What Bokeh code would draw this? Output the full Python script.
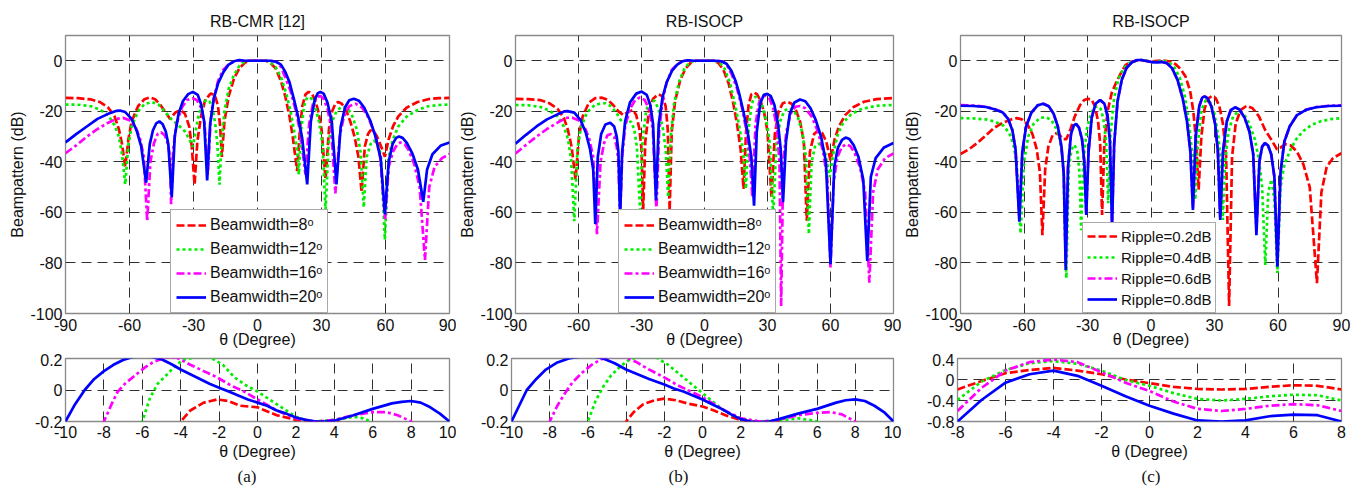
from bokeh.plotting import figure
from bokeh.layouts import column, row
from bokeh.models import Range1d, FixedTicker, Legend, LegendItem, Title
from bokeh.embed import file_html
from bokeh.resources import INLINE

# ---------------- data (theta in degree, beampattern in dB) ----------------
TOP_X_TICKS = [-90, -60, -30, 0, 30, 60, 90]
TOP_Y_TICKS = [-100, -80, -60, -40, -20, 0]
AB_BOT_X_TICKS = [-10, -8, -6, -4, -2, 0, 2, 4, 6, 8, 10]
AB_BOT_Y_TICKS = [-0.2, 0, 0.2]
C_BOT_X_TICKS = [-8, -6, -4, -2, 0, 2, 4, 6, 8]
C_BOT_Y_TICKS = [-0.8, -0.4, 0, 0.4]

TITLES = ["RB-CMR [12]", "RB-ISOCP", "RB-ISOCP"]
CAPTIONS = ["(a)", "(b)", "(c)"]
AB_LABELS = ["Beamwidth=8ᵒ", "Beamwidth=12ᵒ", "Beamwidth=16ᵒ", "Beamwidth=20ᵒ"]
C_LABELS = ["Ripple=0.2dB", "Ripple=0.4dB", "Ripple=0.6dB", "Ripple=0.8dB"]

# ----- panel (a) top -----
A_TOP_BW8 = [(-90,-14.7),(-84,-14.8),(-78,-15.3),(-74,-16.3),(-70,-18.5),(-67,-22),(-65,-27),(-63.5,-33),(-62,-42),(-60.5,-31),(-59,-24),(-56,-18),(-53,-15.2),(-50.5,-14.5),(-48,-15.2),(-45.5,-17.5),(-43,-20.5),(-41,-23),(-38.5,-20.5),(-36,-19.5),(-34,-21),(-32,-26),(-30.8,-34),(-29.5,-49),(-28.2,-32),(-26.5,-22),(-24.5,-15.5),(-22,-13),(-20,-13.5),(-18.5,-18),(-17.5,-26),(-16.7,-38),(-15.5,-24),(-13.5,-14),(-11,-7),(-8.5,-3),(-6,-0.8),(-4,0),(0,0),(4,0),(6,-0.8),(8.5,-3),(11,-8),(13,-14),(15,-22),(16.5,-30),(18.6,-43.6),(19.8,-28),(21,-18),(22.5,-13.3),(24,-12.3),(25.5,-13),(27,-15.5),(28.5,-20),(30,-27),(31.9,-47),(33.5,-27),(35,-20),(36.5,-17),(37.8,-16.3),(39.5,-17),(41.5,-19.5),(43.5,-24),(45.5,-30),(47.3,-38),(48.8,-52),(50.3,-34),(51.8,-29),(53,-27.5),(54.5,-28),(56,-30),(58,-34),(59.7,-38),(61.5,-31),(63.5,-26),(66,-22),(70,-18.5),(75,-16.3),(80,-15.2),(85,-14.8),(90,-14.7)]
A_TOP_BW12 = [(-90,-17.3),(-84,-17.4),(-78,-18),(-74,-19.3),(-70,-21.5),(-67,-25.5),(-65,-30),(-63.5,-37),(-62,-48.9),(-60.5,-33),(-59,-26),(-56,-20),(-53,-17.2),(-49.5,-16.3),(-46.5,-17.3),(-43,-20.5),(-40,-23.5),(-37,-25.5),(-34,-28),(-32,-31),(-30.3,-34),(-29,-28),(-27.5,-21),(-25.5,-17),(-24,-15.5),(-22.5,-16),(-21,-19),(-19.8,-25),(-18.8,-33),(-17.8,-49),(-16.8,-31),(-15.5,-20),(-13.5,-11),(-11,-5.5),(-8.5,-2),(-6,-0.3),(-4,0),(0,0),(4,0),(6,-0.6),(8.5,-2.5),(11,-6.5),(13.5,-13),(15.5,-20),(17.2,-28),(18.5,-35),(19.4,-45),(20.5,-27),(21.8,-18),(23,-15),(24,-14.3),(25.3,-15),(27,-18),(28.8,-24),(30.5,-33),(31.9,-60),(33.3,-33),(35,-24),(37,-20),(39,-18.5),(40.5,-18.3),(42.5,-19),(44.5,-22),(46.5,-27),(48.3,-36),(49.8,-58),(51.2,-38),(53,-33),(54.5,-31.6),(56,-32.5),(57.8,-37),(59.7,-70.8),(61.5,-38),(63.5,-31),(66,-26),(70,-22),(75,-19.5),(80,-18),(85,-17.5),(90,-17.3)]
A_TOP_BW16 = [(-90,-36.6),(-85,-33.5),(-80,-30),(-75,-27),(-70,-24.5),(-66,-23),(-63,-22.6),(-60,-23.5),(-57,-26.5),(-55,-31),(-53.3,-38),(-51.7,-63.5),(-50.2,-40),(-48.5,-32.5),(-46.8,-29),(-45.2,-28.3),(-43.5,-29.5),(-42,-33),(-41,-38),(-40.5,-56.8),(-39.5,-35),(-38,-25),(-35.5,-18.5),(-33,-15.5),(-30.5,-14.8),(-28.5,-15.5),(-26.5,-18.5),(-24.8,-25),(-23.3,-45),(-22,-24),(-20.5,-15),(-18.5,-8),(-16,-3.5),(-13,-1),(-10,0),(-6,0),(0,0),(6,0),(9,-0.5),(11,-2.5),(13,-6.5),(15.5,-12),(18,-20),(20,-28),(22.5,-45),(24.2,-25),(26,-17),(28,-14.2),(29.5,-14),(31,-15),(32.8,-19),(34.5,-26),(36.5,-52.5),(38.5,-30),(40.5,-22),(43,-18),(46,-17),(49,-18.5),(52,-22.5),(55,-29),(57.5,-38),(59.8,-63),(61.5,-42),(63.5,-36),(65.5,-33),(67,-32.3),(69,-33),(71,-35.5),(73.5,-41),(76,-50),(78.5,-78.8),(80.5,-50),(83,-42),(86.5,-38.5),(90,-36.9)]
A_TOP_BW20 = [(-90,-32.3),(-85,-29),(-80,-26),(-75,-23),(-70,-21),(-66,-19.8),(-64.5,-19.7),(-62,-20.3),(-59,-23),(-56.5,-28),(-54.5,-34),(-52.2,-48.2),(-50.5,-33),(-49,-27.5),(-47.5,-24.8),(-46,-24),(-44.5,-25),(-43,-28),(-41.8,-33),(-40.2,-54),(-38.8,-30),(-37,-21),(-35,-16),(-32.5,-13.2),(-30.3,-12.3),(-28,-13.5),(-26.5,-17),(-25,-24),(-23.6,-47.3),(-22.2,-25),(-20.5,-15),(-18.5,-9),(-16,-4.5),(-13.5,-1.5),(-11,-0.2),(-8.5,0.3),(-6,0),(0,0),(6,0),(8.5,-0.3),(11,-1.5),(13.1,-4.5),(15,-8.5),(17,-15),(19,-22),(21,-31),(23.3,-48.9),(25,-24),(26.8,-15.5),(28.3,-12.8),(29.5,-12.3),(31,-13),(32.8,-16.5),(34.8,-24),(37,-48.9),(39,-26),(41,-18.5),(43,-15.6),(45.2,-15),(47.5,-15.8),(50,-18.5),(53,-24),(55.5,-30.5),(57.8,-39),(59.7,-60.8),(61.5,-40),(63.3,-33),(65,-30.5),(66.3,-30),(68,-30.5),(70,-32.5),(72.5,-36.5),(75.2,-43),(77.7,-55.8),(79.5,-43),(82,-37),(86,-33.5),(90,-32.3)]

# ----- panel (a) bottom (zoom of the main lobe) -----
A_BOT_BW8 = [(-4.2,-0.25),(-4,-0.2),(-3.5,-0.13),(-2.8,-0.08),(-2.1,-0.06),(-1.5,-0.07),(-0.9,-0.1),(0,-0.11),(1,-0.16),(2,-0.19),(3,-0.2),(4,-0.2),(4.3,-0.21)]
A_BOT_BW12 = [(-6.1,-0.25),(-6,-0.2),(-5.6,-0.05),(-5.2,0.04),(-4.7,0.1),(-4.3,0.15),(-3.9,0.19),(-3.2,0.21),(-2.5,0.21),(-1.8,0.16),(-1.2,0.08),(-0.6,0.03),(0,-0.01),(0.5,-0.05),(1,-0.09),(1.5,-0.13),(2,-0.17),(2.5,-0.19),(3,-0.2),(4,-0.19),(5,-0.17),(5.5,-0.18),(5.9,-0.2),(6,-0.22)]
A_BOT_BW16 = [(-8.05,-0.22),(-8,-0.2),(-7.6,-0.09),(-7.3,-0.014),(-6.9,0.04),(-6.4,0.09),(-5.9,0.14),(-5.4,0.18),(-4.8,0.205),(-4.2,0.205),(-3.5,0.16),(-2.8,0.12),(-2.1,0.08),(-1.4,0.03),(-0.7,-0.01),(0,-0.06),(1,-0.13),(2,-0.18),(3,-0.2),(4,-0.19),(5,-0.16),(6,-0.14),(6.7,-0.14),(7.3,-0.16),(8,-0.2),(8.1,-0.22)]
A_BOT_BW20 = [(-10,-0.2),(-9.5,-0.09),(-9,0.0),(-8.5,0.07),(-8,0.12),(-7.5,0.16),(-7,0.19),(-6.5,0.21),(-6,0.215),(-5.5,0.21),(-5,0.195),(-4.5,0.165),(-4,0.13),(-3.5,0.1),(-3,0.07),(-2.5,0.04),(-2,0.015),(-1.5,-0.01),(-1,-0.035),(-0.5,-0.06),(0,-0.08),(0.5,-0.1),(1,-0.13),(1.5,-0.15),(2,-0.175),(2.5,-0.19),(3,-0.2),(3.5,-0.2),(4,-0.195),(5,-0.16),(6,-0.12),(7,-0.085),(7.5,-0.075),(8,-0.07),(8.5,-0.08),(9,-0.11),(9.5,-0.15),(10,-0.2)]

# ----- panel (b) top -----
B_TOP_BW8 = [(-90,-15.1),(-84,-15.2),(-78,-15.6),(-74,-16.8),(-70,-19),(-67,-22.5),(-65,-27.5),(-63.3,-34),(-61.4,-47),(-59.8,-30),(-58,-22),(-55,-16.5),(-52,-14.8),(-48.8,-14.6),(-46,-15.5),(-43.5,-17.5),(-41,-20),(-38.6,-21.5),(-36,-20),(-34,-19.5),(-32.5,-21.5),(-31,-27),(-30,-35),(-29.2,-59.3),(-28.2,-32),(-26.5,-20),(-24.5,-15),(-22,-13.3),(-20,-14),(-18.5,-18),(-17.5,-27),(-16.6,-59.3),(-15.6,-28),(-14,-16),(-11.5,-7.5),(-9,-3),(-6.5,-0.8),(-4,0),(0,0),(4,0),(6.5,-0.8),(9,-3.5),(11.5,-9),(13.5,-16),(15.5,-25),(17.2,-35),(18.6,-50.7),(19.8,-28),(21,-17.5),(22.3,-13.3),(23.6,-12.6),(25,-13.2),(26.5,-15.5),(28.3,-20),(30,-28),(31.9,-54),(33.5,-29),(35.3,-20),(37.3,-16.8),(39.3,-16.2),(41.5,-17),(43.5,-19.5),(45.5,-24),(47.3,-32),(48.7,-63.3),(50.2,-36),(52.2,-29),(54.2,-27.5),(56,-28.5),(58,-32),(60,-39.4),(62,-31),(64,-26),(67,-21.5),(71,-18.3),(76,-16.2),(82,-15.2),(90,-14.7)]
B_TOP_BW12 = [(-90,-17.5),(-84,-17.6),(-78,-18.3),(-74,-19.7),(-70,-22),(-67,-26),(-65,-31),(-63.5,-39),(-62,-63.5),(-60.5,-35),(-59,-27),(-56,-20.5),(-52,-17.3),(-47.2,-16.8),(-44.5,-18),(-42,-20.5),(-39.5,-24),(-37,-25),(-35,-24),(-33.5,-27),(-32.2,-34),(-30.7,-59),(-29.4,-31),(-27.8,-20),(-26.3,-16.3),(-25,-15.5),(-23.5,-16),(-21.8,-19.5),(-19.8,-27),(-18.5,-35),(-17.3,-54),(-16.1,-30),(-14.5,-17),(-12,-8),(-9.5,-3),(-7,-0.6),(-4.5,0),(0,0),(4.5,0),(7,-0.6),(9.5,-3),(12,-8.5),(14.5,-17),(16.8,-27),(18.4,-36),(19.7,-50.7),(21,-27),(22.4,-17.5),(23.6,-14.6),(24.4,-14.2),(25.8,-15),(27.5,-18),(29.5,-24),(31.2,-33),(32.7,-62),(34.2,-33),(36,-24),(38,-19.8),(40,-18.8),(42.3,-19.5),(44.5,-22.5),(46.5,-28),(48.3,-38),(49.7,-68.6),(51,-40),(52.6,-34),(54.2,-32.8),(55.8,-33.5),(57.6,-37),(59.6,-46),(61.5,-36),(63.5,-29),(66,-24.5),(70,-21),(75,-19),(82,-17.8),(90,-17.5)]
B_TOP_BW16 = [(-90,-36.7),(-85,-33.3),(-80,-30),(-75,-27),(-70,-24.5),(-66,-22.6),(-63,-22.5),(-60,-23.5),(-57,-26.5),(-55,-30.5),(-53,-38),(-51.2,-68.6),(-49.5,-40),(-47.8,-32.5),(-46.2,-29.5),(-44.6,-29),(-43,-30),(-41.8,-34),(-41,-40),(-40.2,-62),(-39.2,-38),(-37.8,-26),(-35.5,-19),(-33,-15.5),(-30.7,-14.5),(-28.5,-15.5),(-26.5,-19),(-24.6,-27),(-22.9,-59.3),(-21.6,-28),(-20,-16),(-18,-8.5),(-15.5,-3.5),(-12.5,-1),(-9.5,0),(-6,0),(0,0),(6,0),(9,-0.4),(11,-2.2),(13,-5.5),(15.5,-11),(18,-19),(20,-28),(21.5,-38),(22.8,-54),(24.3,-25),(26,-16.5),(27.8,-14),(29.3,-13.8),(31,-15),(32.8,-19),(34.5,-27),(35.7,-40),(36.5,-97),(37.5,-40),(39,-28),(41,-21),(43.3,-18.2),(45.5,-17.9),(48,-18.8),(51,-22),(54,-28),(56.5,-36),(58.5,-47),(60,-81.8),(61.5,-48),(63.3,-38),(65.5,-34),(67.5,-33),(69.5,-33.8),(71.5,-36.5),(74,-42),(76.5,-52),(78.5,-87.8),(80.3,-52),(82.5,-43),(86,-38.5),(90,-36.7)]
B_TOP_BW20 = [(-90,-32.8),(-85,-29.3),(-80,-26),(-75,-23.2),(-70,-21.2),(-66.5,-20),(-65.3,-19.9),(-62,-20.5),(-59,-23.5),(-56.5,-28.5),(-54.5,-35),(-53,-43),(-52,-64.6),(-50.8,-38),(-49.2,-29),(-47.2,-25.2),(-44.9,-24.5),(-43,-26),(-41.8,-30),(-41,-36),(-40.2,-62),(-39.2,-36),(-37.8,-24),(-35.5,-16.5),(-32.5,-13),(-29.9,-12.2),(-27.5,-13.5),(-25.8,-17.5),(-24.5,-25),(-23.1,-55.3),(-21.8,-25),(-20,-14.5),(-18,-8.5),(-15.5,-4),(-13,-1.5),(-10.5,-0.2),(-8,0.2),(-5,0),(0,0),(5,0),(8,-0.2),(10.5,-1.2),(12.8,-4),(14.8,-8),(16.5,-12.9),(18.5,-20),(20.5,-28),(22.3,-38),(23.6,-57.3),(24.9,-28),(26.5,-17),(28.2,-13.5),(29.9,-13.1),(31.6,-14),(33.3,-17.5),(35,-25),(36.3,-35),(37.4,-56),(38.8,-32),(40.6,-21),(42.8,-16.5),(45.5,-15.3),(48,-16),(50.5,-18.8),(53,-23.5),(55.5,-30),(57.8,-40),(60,-80.5),(61.8,-42),(63.5,-34.5),(65.5,-31.3),(67.2,-30.4),(69,-31),(71,-33.3),(73.3,-38),(75.6,-47),(77.5,-79.2),(79.2,-46),(81.5,-38.5),(85.5,-34.3),(90,-32.5)]

# ----- panel (b) bottom -----
B_BOT_BW8 = [(-4.1,-0.23),(-4,-0.2),(-3.6,-0.14),(-3.1,-0.09),(-2.5,-0.065),(-2,-0.055),(-1.4,-0.065),(-0.8,-0.085),(0,-0.105),(0.6,-0.13),(1.2,-0.16),(2,-0.19),(2.6,-0.2),(3.4,-0.2),(4,-0.2),(4.1,-0.22)]
B_BOT_BW12 = [(-6.05,-0.23),(-6,-0.2),(-5.6,-0.07),(-5.2,0.02),(-4.8,0.09),(-4.3,0.15),(-3.8,0.195),(-3.1,0.215),(-2.4,0.205),(-1.8,0.16),(-1.2,0.1),(-0.6,0.04),(0,-0.02),(0.5,-0.07),(1,-0.12),(1.5,-0.155),(2,-0.18),(2.5,-0.195),(3,-0.2),(4,-0.195),(5,-0.18),(5.6,-0.19),(6,-0.2),(6.05,-0.22)]
B_BOT_BW16 = [(-8.05,-0.22),(-8,-0.2),(-7.6,-0.1),(-7.2,-0.02),(-6.8,0.05),(-6.3,0.11),(-5.8,0.16),(-5.3,0.195),(-4.7,0.21),(-4.1,0.21),(-3.5,0.18),(-2.8,0.13),(-2,0.08),(-1.3,0.03),(-0.6,-0.01),(0,-0.045),(1,-0.12),(2,-0.18),(3,-0.2),(4,-0.19),(5,-0.16),(6,-0.145),(6.7,-0.14),(7.3,-0.155),(8,-0.2),(8.1,-0.22)]
B_BOT_BW20 = [(-10,-0.2),(-9.6,-0.1),(-9.2,0),(-8.7,0.07),(-8.2,0.13),(-7.6,0.175),(-7,0.2),(-6.3,0.215),(-5.7,0.215),(-5.2,0.2),(-4.6,0.17),(-4,0.13),(-3.4,0.1),(-2.8,0.07),(-2,0.035),(-1.5,0.01),(-1,-0.01),(-0.5,-0.035),(0,-0.06),(0.5,-0.09),(1,-0.12),(1.5,-0.155),(2,-0.185),(2.5,-0.2),(3,-0.205),(3.5,-0.2),(4,-0.185),(5,-0.15),(6,-0.12),(7,-0.08),(7.5,-0.065),(8,-0.06),(8.5,-0.07),(9,-0.1),(9.5,-0.14),(10,-0.2)]

# ----- panel (c) top -----
C_TOP_R02 = [(-90,-36.9),(-86,-35),(-82,-32.5),(-78,-29.5),(-74,-26.5),(-70,-24.5),(-66,-23.2),(-63.4,-22.7),(-61,-23.2),(-58.5,-25),(-56,-29),(-54,-35),(-52.5,-44),(-51.3,-69),(-50,-43),(-48.5,-34),(-46.5,-29.5),(-44.7,-28.7),(-43,-29.5),(-41.5,-31),(-40,-31),(-38,-27),(-36,-22),(-33.5,-17.5),(-31.5,-15.5),(-29.8,-15),(-28,-15.5),(-26.5,-18),(-25,-24),(-24,-33),(-23.1,-61),(-22,-32),(-20.5,-20),(-18.5,-12.5),(-16.6,-8.9),(-14,-4.5),(-11.9,-1.6),(-9,-0.3),(-6,0.2),(-3,0),(0,-0.3),(3,0),(6,0.1),(9,-0.3),(11.5,-1.3),(14,-3.3),(16.3,-6.2),(18.5,-12),(20,-20),(21.3,-32),(22.5,-51),(23.8,-30),(25.3,-19),(27,-15),(28.8,-13.9),(30.6,-14.8),(32.3,-18),(34,-25),(35.5,-38),(36.9,-97),(38.3,-38),(40,-25),(42.3,-19.5),(45.2,-17.8),(48,-18.8),(51,-22),(54,-27.5),(56.9,-31.3),(59.5,-35),(61,-34.5),(63.5,-33),(66,-33.5),(69,-36),(72,-41),(75,-50),(78.4,-88),(80.5,-52),(83,-42),(86,-38.5),(90,-36.6)]
C_TOP_R04 = [(-90,-22.7),(-84,-22.8),(-78,-23.2),(-74,-24),(-70,-25.5),(-67,-28.5),(-65,-33),(-63.5,-40),(-61.6,-68.3),(-60,-40),(-58,-30),(-55.5,-25),(-52.5,-22.6),(-49.7,-22.3),(-47,-23.5),(-45,-26.5),(-43,-31),(-41.5,-40),(-40,-86),(-38.8,-42),(-37.5,-35),(-36.1,-33.3),(-34.8,-36),(-33.8,-44),(-33,-67),(-32,-40),(-30.3,-27),(-28.2,-20.5),(-26.5,-18.3),(-25.2,-18),(-23.8,-19),(-22.5,-23),(-21.2,-32),(-20.2,-56.4),(-19.2,-30),(-17.5,-15),(-15.5,-7.5),(-13,-3),(-10,-0.8),(-7,0),(-4.5,0.3),(-2,0),(0,-0.4),(3,-0.2),(6,0),(8.5,-0.6),(11,-2.5),(13.5,-6.5),(16,-14),(18,-25),(19.6,-38),(20.9,-55),(22.2,-32),(23.8,-19.5),(25.9,-15.5),(28,-16.5),(30,-21),(31.8,-30),(33,-40),(33.9,-63),(35,-40),(36.6,-28),(38.8,-22),(41.3,-20),(43.8,-21),(46.5,-25),(49,-31),(51,-39),(52.5,-50),(54,-80.8),(55.4,-52),(56.9,-47),(58.3,-55),(59.7,-84),(61.2,-50),(63,-41),(66,-35),(69,-30.5),(72,-27.8),(76,-25.3),(80,-24),(85,-23.1),(90,-22.7)]
C_TOP_R06 = [(-90,-17.5),(-84,-17.7),(-78,-18.2),(-74,-19.1),(-70,-20.4),(-67.5,-22.9),(-65.5,-27.4),(-64,-35),(-62.2,-62),(-60.8,-36),(-59,-26),(-56.5,-20.5),(-53.5,-17.6),(-50.9,-17),(-48.3,-18),(-46,-21),(-44,-26),(-42.3,-34),(-41.2,-45),(-40.3,-80),(-39.2,-42),(-37.8,-29),(-36.5,-25.6),(-35.3,-25),(-34,-26.5),(-32.6,-31),(-31.5,-40),(-30.6,-60),(-29.5,-36),(-28,-22.5),(-26.2,-17),(-24,-15.5),(-22,-17),(-20.5,-22),(-19.4,-32),(-18.4,-64),(-17.4,-33),(-15.8,-16),(-13.8,-7.5),(-11.5,-2.8),(-9,-0.6),(-6.5,0.3),(-4.5,0.3),(-2,-0.1),(0,-0.4),(2.5,-0.5),(5,-0.4),(7.5,-0.9),(10,-3),(12.5,-7.5),(15,-15),(17,-24),(18.6,-36),(19.8,-58),(21.1,-30),(22.8,-18),(24.2,-14.6),(25.3,-14.1),(26.7,-14.8),(28.5,-18),(30.3,-25),(31.6,-36),(32.7,-62),(34,-36),(35.8,-24),(37.7,-19.5),(39.7,-18.4),(41.8,-19.3),(44.2,-22.5),(46.5,-28),(48.3,-37),(49.8,-67),(51.2,-40),(52.5,-34),(53.8,-32.6),(55.3,-33.5),(56.8,-37),(58.3,-46),(59.7,-80),(61.2,-44),(63,-32),(65.5,-26),(69,-21.5),(73,-19.4),(78,-18.3),(84,-17.8),(90,-17.6)]
C_TOP_R08 = [(-90,-17.8),(-84,-17.9),(-78,-18.3),(-74,-19.2),(-70,-20.5),(-67.5,-23),(-65.5,-27.5),(-64,-35),(-62.2,-63.7),(-60.8,-36),(-59,-26),(-56.5,-20.5),(-53.5,-17.6),(-50.9,-17),(-48.3,-18),(-46,-21),(-44,-26),(-42.3,-34),(-41.2,-45),(-40.3,-82.8),(-39.2,-42),(-37.8,-29),(-36.5,-25.6),(-35.3,-25),(-34,-26.5),(-32.6,-31),(-31.5,-40),(-30.6,-61),(-29.5,-36),(-28,-22.5),(-26.2,-17),(-24,-15.5),(-22,-17),(-20.5,-22),(-19.4,-32),(-18.4,-65.7),(-17.4,-33),(-15.8,-16),(-13.8,-7.5),(-11.5,-2.8),(-9,-0.6),(-6.5,0.3),(-4.5,0.3),(-2,-0.1),(0,-0.5),(2.5,-0.6),(5,-0.5),(7.5,-1),(10,-3),(12.5,-7.5),(15,-15),(17,-24),(18.6,-36),(19.8,-59),(21.1,-30),(22.8,-18),(24.2,-14.6),(25.3,-14.1),(26.7,-14.8),(28.5,-18),(30.3,-25),(31.6,-36),(32.7,-63),(34,-36),(35.8,-24),(37.7,-19.5),(39.7,-18.4),(41.8,-19.3),(44.2,-22.5),(46.5,-28),(48.3,-37),(49.8,-69),(51.2,-40),(52.5,-34),(53.8,-32.6),(55.3,-33.5),(56.8,-37),(58.3,-46),(59.7,-81.5),(61.2,-44),(63,-32),(65.5,-26),(69,-21.5),(73,-19.5),(78,-18.4),(84,-17.9),(90,-17.8)]

# ----- panel (c) bottom -----
C_BOT_R02 = [(-8,-0.19),(-7,-0.03),(-6,0.12),(-5,0.18),(-4,0.22),(-3,0.17),(-2,0.1),(-1,0.0),(0,-0.07),(1,-0.14),(2,-0.18),(3,-0.19),(4,-0.18),(5,-0.14),(6,-0.11),(7,-0.12),(8,-0.19)]
C_BOT_R04 = [(-8,-0.39),(-7,-0.04),(-6,0.18),(-5,0.31),(-4,0.35),(-3,0.3),(-2,0.17),(-1,-0.01),(0,-0.12),(1,-0.26),(2,-0.37),(3,-0.4),(4,-0.37),(5,-0.32),(6,-0.29),(7,-0.3),(8,-0.4)]
C_BOT_R06 = [(-8,-0.6),(-7,-0.16),(-6,0.17),(-5,0.33),(-4,0.38),(-3,0.33),(-2,0.14),(-1,-0.06),(0,-0.22),(1,-0.42),(2,-0.56),(3,-0.6),(4,-0.56),(5,-0.5),(6,-0.47),(7,-0.49),(8,-0.6)]
C_BOT_R08 = [(-8,-0.8),(-7,-0.39),(-6,-0.06),(-5,0.1),(-4,0.17),(-3,0.07),(-2,-0.12),(-1,-0.32),(0,-0.5),(1,-0.65),(2,-0.78),(3,-0.8),(4,-0.78),(5,-0.7),(6,-0.67),(7,-0.68),(8,-0.8)]

# ---------------- styling ----------------
FONT = "Liberation Sans"
SERIF = "Liberation Serif"
COLORS = ["#ff0000", "#00ee00", "#ff00ff", "#0000ff"]
DASHES = ["8 3", "3 3", "8 3 3 3", "solid"]
GRID_DASH = "10 6"


def fmt(v):
    return "%g" % v


def style_axes(p, xticks, yticks, ylabel=None, x_std=3, xl_std=0):
    p.xaxis.ticker = FixedTicker(ticks=xticks)
    p.yaxis.ticker = FixedTicker(ticks=yticks)
    p.xaxis.major_label_overrides = {t: fmt(t) for t in xticks}
    p.yaxis.major_label_overrides = {t: fmt(t) for t in yticks}
    for ax in (p.xaxis[0], p.yaxis[0]):
        ax.axis_line_color = None
        ax.major_tick_line_color = None
        ax.minor_tick_line_color = None
        ax.major_tick_out = 0
        ax.major_tick_in = 0
        ax.major_label_text_font = FONT
        ax.major_label_text_font_size = "16px"
        ax.major_label_text_color = "#111111"
        ax.major_label_standoff = 3
        ax.axis_label_text_font = FONT
        ax.axis_label_text_font_size = "16px"
        ax.axis_label_text_font_style = "normal"
        ax.axis_label_text_color = "#111111"
        ax.axis_label_standoff = 1
    p.xaxis.axis_label = "θ (Degree)"
    p.xaxis.major_label_standoff = x_std
    p.xaxis.axis_label_standoff = xl_std
    if ylabel:
        p.yaxis.axis_label = ylabel
    for g in (p.xgrid[0], p.ygrid[0]):
        g.grid_line_color = "#303030"
        g.grid_line_dash = GRID_DASH
        g.grid_line_width = 1
    p.outline_line_color = "#8a8a8a"
    p.outline_line_width = 1.3
    p.background_fill_color = "white"
    p.border_fill_color = "white"


def make(width, height, left, right, top, bottom, xr, yr):
    return figure(width=width, height=height, x_range=Range1d(*xr), y_range=Range1d(*yr),
                  output_backend="svg", toolbar_location=None,
                  min_border_left=left, min_border_right=right,
                  min_border_top=top, min_border_bottom=bottom)


def draw(p, series):
    rs = []
    for data, c, d in zip(series, COLORS, DASHES):
        xs = [a for a, b in data]
        ys = [b for a, b in data]
        rs.append(p.line(xs, ys, line_color=c, line_width=2.7, line_dash=d))
    return rs


panels = [
    dict(top=[A_TOP_BW8, A_TOP_BW12, A_TOP_BW16, A_TOP_BW20],
         bot=[A_BOT_BW8, A_BOT_BW12, A_BOT_BW16, A_BOT_BW20],
         labels=AB_LABELS, width=456, left=65, right=7, bx=AB_BOT_X_TICKS, by=AB_BOT_Y_TICKS,
         brange=(-0.2, 0.2), bxr=(-10, 10), leg=(105, 0), legfs="16px", legh=20, legsp=4, legpad=5,
         capoff=172),
    dict(top=[B_TOP_BW8, B_TOP_BW12, B_TOP_BW16, B_TOP_BW20],
         bot=[B_BOT_BW8, B_BOT_BW12, B_BOT_BW16, B_BOT_BW20],
         labels=AB_LABELS, width=445, left=55, right=8, bx=AB_BOT_X_TICKS, by=AB_BOT_Y_TICKS,
         brange=(-0.2, 0.2), bxr=(-10, 10), leg=(103, 0), legfs="16px", legh=20, legsp=4, legpad=5,
         capoff=157),
    dict(top=[C_TOP_R02, C_TOP_R04, C_TOP_R06, C_TOP_R08],
         bot=[C_BOT_R02, C_BOT_R04, C_BOT_R06, C_BOT_R08],
         labels=C_LABELS, width=460, left=56, right=20, bx=C_BOT_X_TICKS, by=C_BOT_Y_TICKS,
         brange=(-0.8, 0.4), bxr=(-8, 8), leg=(122, 0), legfs="15px", legh=18, legsp=3, legpad=4,
         capoff=184),
]

tops, bots = [], []
for i, P in enumerate(panels):
    pt = make(P["width"], 353, P["left"], P["right"], 35, 40, (-90, 90), (-100, 10))
    style_axes(pt, TOP_X_TICKS, TOP_Y_TICKS, "Beampattern (dB)", x_std=5, xl_std=-3)
    pt.title.text = TITLES[i]
    pt.title.align = "center"
    pt.title.text_font = FONT
    pt.title.text_font_size = "16px"
    pt.title.text_font_style = "normal"
    pt.title.text_color = "#111111"
    pt.title.standoff = 11
    rs = draw(pt, P["top"])
    leg = Legend(items=[LegendItem(label=l, renderers=[r]) for l, r in zip(P["labels"], rs)],
                 location=P["leg"])
    leg.label_text_font = FONT
    leg.label_text_font_size = P["legfs"]
    leg.label_text_color = "#111111"
    leg.glyph_width = 30
    leg.glyph_height = P["legh"]
    leg.label_height = P["legh"]
    leg.label_standoff = 4
    leg.spacing = P["legsp"]
    leg.padding = P["legpad"]
    leg.margin = 0
    leg.border_line_color = "#555555"
    leg.border_line_width = 1
    leg.background_fill_color = "white"
    leg.background_fill_alpha = 1.0
    pt.add_layout(leg)
    tops.append(pt)

    pb = make(P["width"], 136, P["left"], P["right"], 5, 68, P["bxr"], P["brange"])
    style_axes(pb, P["bx"], P["by"], x_std=4, xl_std=2)
    draw(pb, P["bot"])
    cap = Title(text=CAPTIONS[i], align="left", offset=P["capoff"], text_font=SERIF,
                text_font_size="17px", text_font_style="normal", text_color="#111111", standoff=5)
    pb.add_layout(cap, "below")
    bots.append(pb)

layout = column(row(*tops), row(*bots))
open("out.html", "w").write(file_html(layout, INLINE))
